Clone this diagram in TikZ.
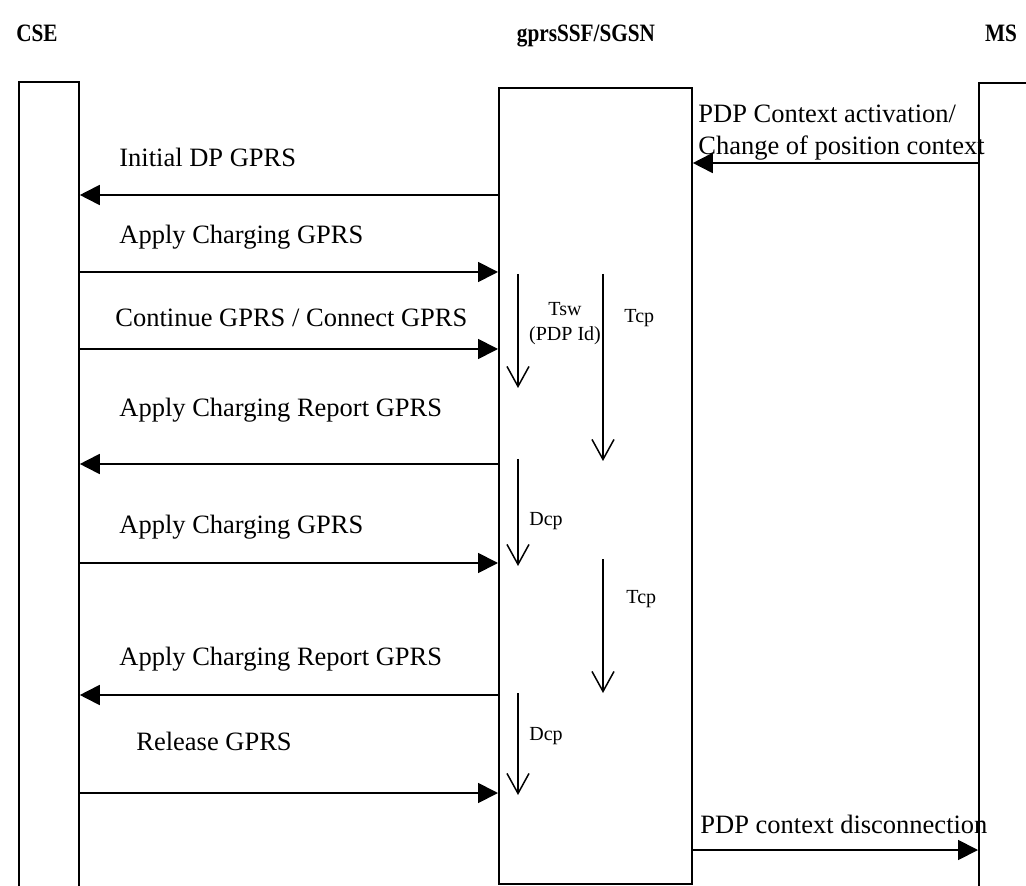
\documentclass[tikz,border=0pt]{standalone}
\usepackage{fontspec}
\setmainfont{Liberation Serif}
\usetikzlibrary{arrows.meta,positioning,calc}

\begin{document}
\begin{tikzpicture}[x=0.5pt,y=-0.5pt,
  ent/.style={draw,line width=0.9pt,minimum width=30pt,inner sep=0pt,anchor=north west},
  hd/.style={font=\fontsize{12.5}{14}\selectfont\bfseries,anchor=base,inner sep=0pt},
  lbl/.style={font=\fontsize{13.25}{16}\selectfont,anchor=base west,inner sep=0pt},
  tl/.style={font=\fontsize{10}{12.5}\selectfont,inner sep=0pt},
  ar/.style={-{Triangle[length=10pt,width=10pt]},line width=0.9pt},
  tm/.style={-{Straight Barb[length=10pt,width=11pt]},line width=0.75pt}]
\useasboundingbox (0,0) rectangle (1026,886);
\clip (0,0) rectangle (1026,886);
\node[hd] (hcse) at (37,42) {\scalebox{0.85}[1]{CSE}};
\node[hd] (hssf) at (586,42) {\scalebox{0.85}[1]{gprsSSF/SGSN}};
\node[hd] (hms) at (1001,42) {\scalebox{0.85}[1]{MS}};
\node[ent,minimum height=405pt] (cse) at (18,81) {};
\node[ent,minimum width=96.5pt,minimum height=398pt] (sgsn) at (498,87) {};
\node[ent,minimum height=405pt] (ms) at (978,82) {};
\coordinate (r0) at (0,163);
\coordinate (r1) at (0,195);
\coordinate (r2) at (0,272);
\coordinate (r3) at (0,349);
\coordinate (r4) at (0,464);
\coordinate (r5) at (0,563);
\coordinate (r6) at (0,695);
\coordinate (r7) at (0,793);
\coordinate (r8) at (0,850);
\node[lbl,align=left,anchor=north west] (m0) at (698,105) {PDP Context activation/\\Change of position context};
\node[lbl] (m1) at (119,167) {Initial DP GPRS};
\node[lbl] (m2) at (119,244) {Apply Charging GPRS};
\node[lbl] (m3) at (115,327) {Continue GPRS / Connect GPRS};
\node[lbl] (m4) at (119,417) {Apply Charging Report GPRS};
\node[lbl] (m5) at (119,533) {Apply Charging GPRS};
\node[lbl] (m6) at (119,665) {Apply Charging Report GPRS};
\node[lbl] (m7) at (136,750) {Release GPRS};
\node[lbl] (m8) at (700,833) {PDP context disconnection};
\draw[ar] (ms.west |- r0) -- (sgsn.east |- r0);
\draw[ar] (sgsn.west |- r1) -- (cse.east |- r1);
\draw[ar] (cse.east |- r2) -- (sgsn.west |- r2);
\draw[ar] (cse.east |- r3) -- (sgsn.west |- r3);
\draw[ar] (sgsn.west |- r4) -- (cse.east |- r4);
\draw[ar] (cse.east |- r5) -- (sgsn.west |- r5);
\draw[ar] (sgsn.west |- r6) -- (cse.east |- r6);
\draw[ar] (cse.east |- r7) -- (sgsn.west |- r7);
\draw[ar] (sgsn.east |- r8) -- (ms.west |- r8);
\draw[tm] (518,274) -- (518,388);
\draw[tm] (603,274) -- (603,461);
\draw[tm] (518,459) -- (518,566);
\draw[tm] (603,559) -- (603,693);
\draw[tm] (518,693) -- (518,795);
\node[tl,align=center,anchor=north] (tsw) at (565,302) {Tsw\\(PDP Id)};
\node[tl,anchor=base west] (tcp1) at (624,323) {Tcp};
\node[tl,anchor=base west] (dcp1) at (529,525) {Dcp};
\node[tl,anchor=base west] (tcp2) at (626,603) {Tcp};
\node[tl,anchor=base west] (dcp2) at (529,740) {Dcp};
\end{tikzpicture}
\end{document}
